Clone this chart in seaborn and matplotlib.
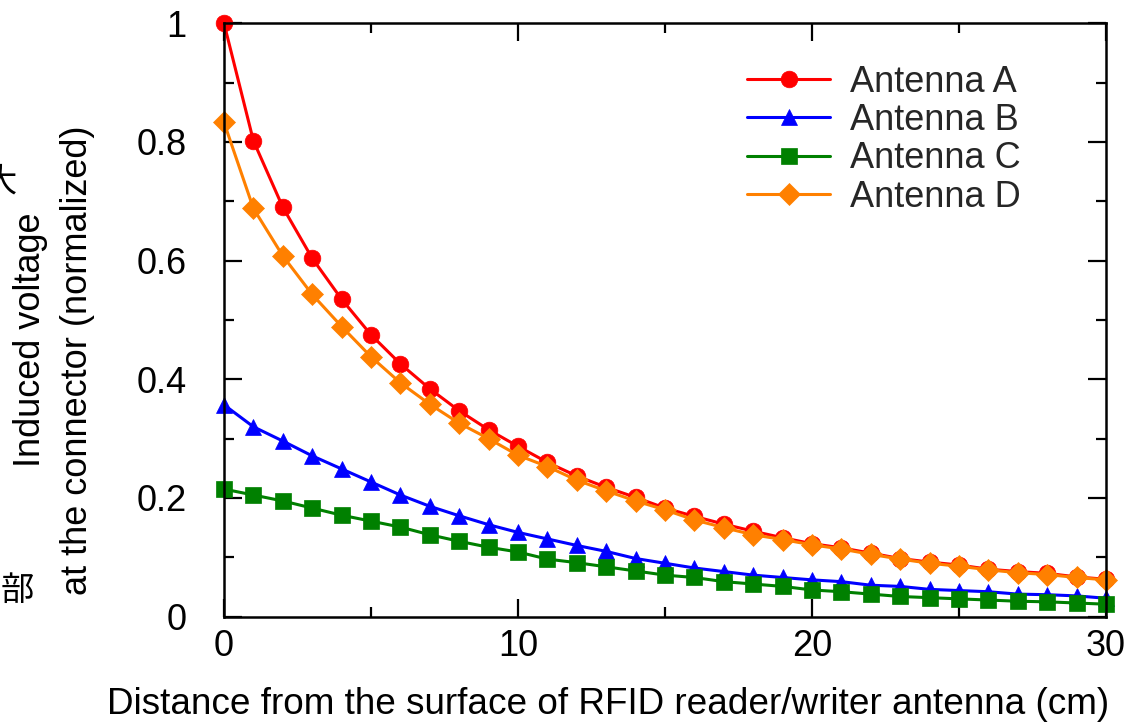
import numpy as np
import pandas as pd
import seaborn as sns
import matplotlib
matplotlib.use("Agg")
import matplotlib.pyplot as plt
from matplotlib.ticker import MultipleLocator, FormatStrFormatter

# distance from reader/writer antenna surface (cm)
distance = list(range(0, 31))

antenna_a = [1.000, 0.802, 0.690, 0.604, 0.535, 0.475, 0.426, 0.384, 0.347, 0.315,
             0.287, 0.260, 0.237, 0.218, 0.201, 0.183, 0.169, 0.156, 0.144, 0.133,
             0.123, 0.116, 0.107, 0.098, 0.092, 0.087, 0.080, 0.076, 0.073, 0.067,
             0.063]
antenna_b = [0.357, 0.320, 0.296, 0.271, 0.249, 0.227, 0.205, 0.186, 0.170, 0.155,
             0.142, 0.131, 0.120, 0.110, 0.098, 0.090, 0.082, 0.076, 0.070, 0.066,
             0.062, 0.059, 0.053, 0.051, 0.046, 0.044, 0.042, 0.038, 0.037, 0.035,
             0.031]
antenna_c = [0.215, 0.205, 0.195, 0.183, 0.171, 0.161, 0.151, 0.138, 0.127, 0.117,
             0.109, 0.097, 0.091, 0.084, 0.077, 0.070, 0.066, 0.059, 0.055, 0.051,
             0.045, 0.042, 0.038, 0.034, 0.032, 0.030, 0.028, 0.026, 0.025, 0.023,
             0.021]
antenna_d = [0.833, 0.688, 0.608, 0.543, 0.489, 0.438, 0.394, 0.358, 0.326, 0.300,
             0.272, 0.253, 0.230, 0.212, 0.195, 0.180, 0.163, 0.150, 0.138, 0.130,
             0.121, 0.114, 0.105, 0.097, 0.090, 0.085, 0.079, 0.074, 0.071, 0.066,
             0.062]

labels = ["Antenna A", "Antenna B", "Antenna C", "Antenna D"]
colors = ["#ff0000", "#0000ff", "#008000", "#ff8000"]
markers = ["o", "^", "s", "D"]
msizes = [12, 12, 11, 11]

sns.set_theme(style="ticks")
plt.rcParams["font.family"] = ["Liberation Sans", "DejaVu Sans"]

fig = plt.figure(figsize=(11.24, 7.22), dpi=100)
ax = fig.add_axes([0.1993, 0.1459, 0.7847, 0.8218])

for name, vals, c, m, ms in zip(labels, [antenna_a, antenna_b, antenna_c, antenna_d],
                                colors, markers, msizes):
    df = pd.DataFrame({"x": distance, "y": vals})
    sns.lineplot(data=df, x="x", y="y", ax=ax, color=c, marker=m, markersize=ms,
                 markeredgewidth=0.5, markeredgecolor=c, linewidth=2.2,
                 label=name, clip_on=False)

ax.set_xlim(0, 30)
ax.set_ylim(0, 1)
ax.xaxis.set_major_locator(MultipleLocator(10))
ax.xaxis.set_minor_locator(MultipleLocator(5))
ax.yaxis.set_major_locator(MultipleLocator(0.2))
ax.yaxis.set_minor_locator(MultipleLocator(0.1))
ax.yaxis.set_major_formatter(FormatStrFormatter("%g"))

for s in ax.spines.values():
    s.set_visible(True)
    s.set_color("black")
    s.set_linewidth(1.8)
ax.tick_params(which="both", direction="in", top=True, right=True, color="black",
               width=1.6, labelsize=26, labelcolor="black")
ax.tick_params(which="major", length=13)
ax.tick_params(which="minor", length=7)
ax.tick_params(axis="y", pad=27)
ax.tick_params(axis="x", pad=9)

ax.set_xlabel("Distance from the surface of RFID reader/writer antenna (cm)",
              fontsize=26.6, color="black")
ax.xaxis.set_label_coords(0.435, -0.118)

# two-line y label: second line as the axis label, first line as plain text
ax.set_ylabel("at the connector (normalized)", fontsize=26, color="black")
ax.yaxis.set_label_coords(-0.146, 0.432)
ax.text(-0.219, 0.466, "Induced voltage", transform=ax.transAxes, rotation=90,
        ha="center", va="center", fontsize=26, color="black")

leg = ax.legend(loc="upper left", bbox_to_anchor=(0.593, 0.93), frameon=False,
                fontsize=26, handlelength=2.3, handletextpad=0.55,
                labelspacing=0.09, borderpad=0, borderaxespad=0)

# clipped side text from the original page
fig.text(0.015, 1 - 590 / 722, "部", fontsize=24, family=["Noto Sans CJK JP"],
         ha="center", va="center", color="black")
fig.text(0.0, 1 - 182 / 722, "大", fontsize=24, family=["Noto Sans CJK JP"],
         ha="center", va="center", color="black")

fig.savefig("out.png", dpi=100)
